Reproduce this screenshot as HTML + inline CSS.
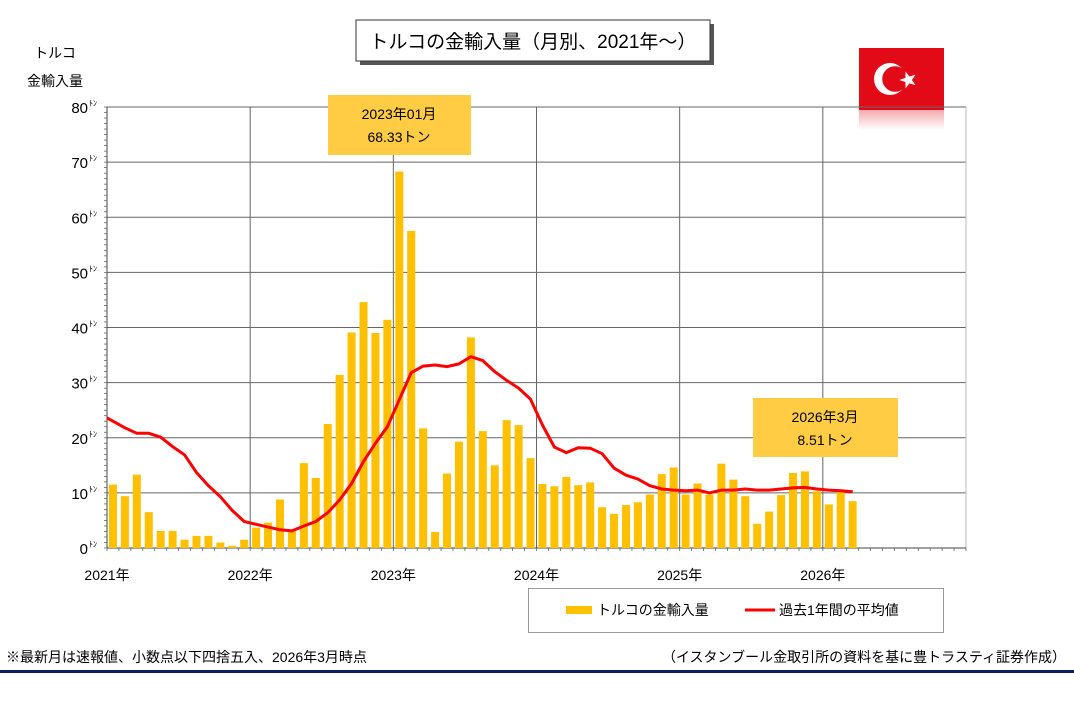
<!DOCTYPE html>
<html><head><meta charset="utf-8"><style>
body{margin:0;background:#fff;width:1074px;height:707px;overflow:hidden}
svg{display:block;font-family:"Liberation Sans","Noto Sans CJK JP",sans-serif}
</style></head><body>
<svg width="1074" height="707" xmlns="http://www.w3.org/2000/svg" id="s">
<rect width="1074" height="707" fill="#fff"/>
<rect x="360" y="24" width="354" height="41" fill="#555"/>
<rect x="356" y="20" width="354" height="41" fill="#fff" stroke="#333" stroke-width="1"/>
<text x="533" y="48" font-size="19" text-anchor="middle" fill="#000">トルコの金輸入量（月別、2021年～）</text>
<text x="55" y="58" font-size="14" text-anchor="middle">トルコ</text>
<text x="55" y="86" font-size="14" text-anchor="middle">金輸入量</text>
<defs><linearGradient id="rf" x1="0" y1="0" x2="0" y2="1"><stop offset="0" stop-color="#e30a17" stop-opacity="0.35"/><stop offset="1" stop-color="#e30a17" stop-opacity="0"/></linearGradient></defs>
<rect x="859" y="48" width="85" height="62" fill="#e30a17"/>
<rect x="859" y="110" width="85" height="20" fill="url(#rf)"/>
<circle cx="890" cy="79" r="16" fill="#fff"/><circle cx="895" cy="79" r="12.8" fill="#e30a17"/>
<polygon points="908,71 910.1,77.1 916.6,77.2 911.4,81.1 913.3,87.3 908,83.6 902.7,87.3 904.6,81.1 899.4,77.2 905.9,77.1" fill="#fff" transform="rotate(-18 908 79)"/>
<g id="plot"></g>
<rect x="328" y="95" width="143" height="60" fill="#ffcc44"/>
<text x="399" y="119" font-size="14" text-anchor="middle">2023年01月</text>
<text x="399" y="142" font-size="14" text-anchor="middle">68.33トン</text>
<rect x="753" y="398" width="145" height="59" fill="#ffcc44"/>
<text x="825" y="422" font-size="14" text-anchor="middle">2026年3月</text>
<text x="825" y="445" font-size="14" text-anchor="middle">8.51トン</text>
<rect x="528.5" y="588.5" width="415" height="44" fill="#fff" stroke="#999"/>
<rect x="566" y="606" width="26" height="8" fill="#ffc000"/>
<text x="597" y="615" font-size="14">トルコの金輸入量</text>
<line x1="745" y1="610" x2="775" y2="610" stroke="#f00" stroke-width="3"/>
<text x="779" y="615" font-size="14">過去1年間の平均値</text>
<text x="6" y="662" font-size="14">※最新月は速報値、小数点以下四捨五入、2026年3月時点</text>
<text x="1066" y="662" font-size="14" text-anchor="end">（イスタンブール金取引所の資料を基に豊トラスティ証券作成）</text>
<rect x="0" y="670" width="1074" height="3" fill="#0a1f5c"/>
</svg>
<script>
const NS="http://www.w3.org/2000/svg",g=document.getElementById("plot");
function el(t,a,txt){const e=document.createElementNS(NS,t);for(const k in a)e.setAttribute(k,a[k]);if(txt!=null)e.textContent=txt;g.appendChild(e);return e;}
const X0=107,X1=966,Y0=548,YT=107,pu=(Y0-YT)/80,mw=(X1-X0)/72;
const y=v=>Y0-v*pu;
for(let v=10;v<=80;v+=10)el("line",{x1:X0,x2:X1,y1:y(v),y2:y(v),stroke:"#666","stroke-width":1});
for(let i=1;i<=6;i++){const x=X0+i*12*mw;el("line",{x1:x,x2:x,y1:YT,y2:Y0,stroke:i==6?"#bbb":"#666","stroke-width":1});}
el("line",{x1:X0,x2:X0,y1:YT,y2:Y0,stroke:"#444"});
el("line",{x1:X0,x2:X1,y1:Y0,y2:Y0,stroke:"#444"});
for(let v=0;v<=80;v++)el("line",{x1:X0-3,x2:X0,y1:y(v),y2:y(v),stroke:"#666","stroke-width":0.8});
for(let i=0;i<=72;i++){const x=X0+i*mw;el("line",{x1:x,x2:x,y1:Y0,y2:Y0+3,stroke:"#666","stroke-width":0.8});}
for(let v=0;v<=80;v+=10){el("text",{x:88,y:y(v)+6,"font-size":15,"text-anchor":"end"},v);
 el("text",{x:89,y:y(v)-1,"font-size":8},"ﾄﾝ");}
for(let i=0;i<6;i++)el("text",{x:X0+i*12*mw,y:580,"font-size":14,"text-anchor":"middle"},(2021+i)+"年");
const bars=[11.5,9.4,13.3,6.5,3.1,3.1,1.5,2.2,2.2,1.0,0.4,1.5,
3.7,4.6,8.8,3.3,15.4,12.7,22.5,31.4,39.1,44.6,39.0,41.4,
68.3,57.5,21.7,2.9,13.5,19.3,38.2,21.2,15.0,23.2,22.3,16.3,
11.6,11.2,12.9,11.4,11.9,7.4,6.2,7.8,8.3,9.7,13.4,14.6,
9.7,11.7,9.7,15.3,12.4,9.4,4.4,6.6,9.6,13.6,13.9,10.3,
7.9,10.2,8.5];
const line=[23.0,21.8,20.8,20.8,20.1,18.4,16.9,13.7,11.3,9.3,6.8,4.8,
4.3,3.8,3.3,3.1,4.0,4.8,6.4,8.7,11.7,15.7,19.0,22.0,
26.9,31.8,33.0,33.2,32.9,33.4,34.7,34.0,32.0,30.4,29.0,27.0,
22.3,18.3,17.3,18.2,18.1,17.1,14.5,13.2,12.5,11.3,10.7,10.5,
10.4,10.5,10.0,10.5,10.5,10.7,10.5,10.5,10.7,10.9,11.0,10.7,
10.5,10.4,10.2];
bars.forEach((v,i)=>{const cx=X0+(i+0.5)*mw;el("rect",{x:cx-4,y:y(v),width:8,height:v*pu,fill:"#ffc000"});});
let d="M"+X0+","+y(23.6);
line.forEach((v,i)=>{d+=" L"+(X0+(i+0.5)*mw).toFixed(1)+","+y(v).toFixed(1);});
el("path",{d:d,fill:"none",stroke:"#f00","stroke-width":3,"stroke-linejoin":"round"});
</script>
</body></html>
